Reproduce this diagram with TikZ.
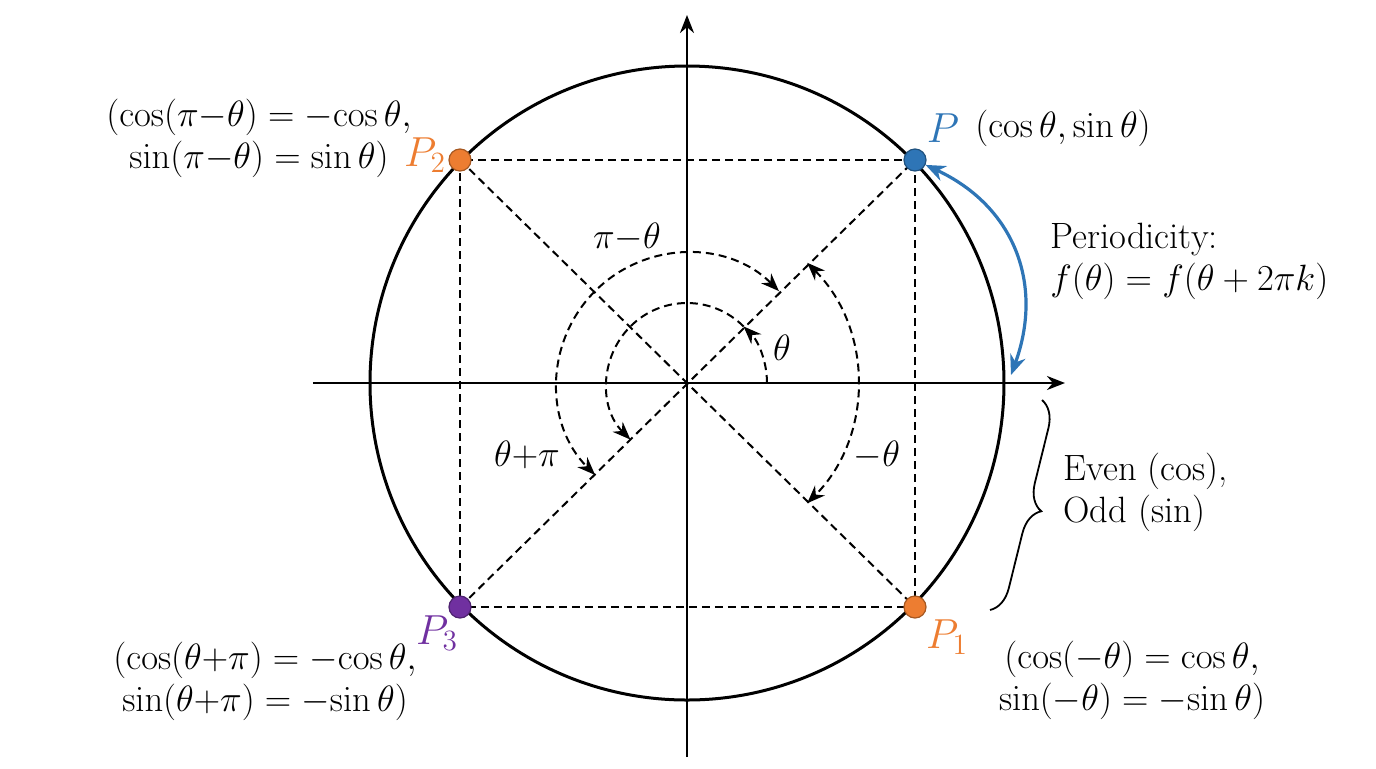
\RequirePackage{fix-cm}
\documentclass[tikz,border=0pt]{standalone}
\usetikzlibrary{arrows.meta,decorations.pathreplacing}
\definecolor{pblue}{RGB}{46,117,182}
\definecolor{porange}{RGB}{237,125,49}
\definecolor{ppurple}{RGB}{112,48,160}
\begin{document}
\begin{tikzpicture}[x=0.5pt,y=0.5pt,
  font=\fontsize{18.3}{21}\selectfont,
  axis/.style={line width=1.3pt,-{Stealth[length=9pt,width=7pt]}},
  circ/.style={line width=1.5pt},
  dline/.style={line width=1pt,dash pattern=on 4pt off 2.5pt},
  darc/.style={line width=1pt,dash pattern=on 4pt off 2.5pt},
  dot/.style={circle,inner sep=0pt,minimum size=11pt,line width=0.6pt},
  ptlabel/.style={font=\fontsize{21}{24}\selectfont},
  txt/.style={align=center,inner sep=0pt},
]
\useasboundingbox (-687,-385) rectangle (689,383);
\coordinate (O) at (0,0);
\coordinate (P) at (228,223);
\coordinate (P2) at (-227,223);
\coordinate (P3) at (-227,-224);
\coordinate (P1) at (228,-224);
\coordinate (xL) at (-374,0);
\coordinate (xR) at (378,0);
\coordinate (yB) at (0,-374);
\coordinate (yT) at (0,368);
% axes
\draw[axis] (xL) -- (xR);
\draw[axis] (yB) -- (yT);
% circle
\draw[circ] (O) circle (317);
% dashed rectangle and diagonals
\draw[dline] (P) -- (P2) -- (P3) -- (P1) -- cycle;
\draw[dline] (P3) -- (P);
\draw[dline] (P2) -- (P1);
% angle arcs
\draw[darc,-{Stealth[length=9pt,width=7pt]}] (0:80) arc[start angle=0,end angle=45,radius=80];
\draw[darc,-{Stealth[length=9pt,width=7pt]}] (45:80) arc[start angle=45,end angle=225,radius=80];
\draw[darc,{Stealth[length=9pt,width=7pt]}-{Stealth[length=9pt,width=7pt]}] (45:130) arc[start angle=45,end angle=225,radius=130];
\draw[darc,{Stealth[length=9pt,width=7pt]}-{Stealth[length=9pt,width=7pt]}] (45:170) arc[start angle=45,end angle=-45,radius=170];
% points
\node[dot,fill=pblue,draw=pblue!70!black] (p) at (P) {};
\node[dot,fill=porange,draw=porange!70!black] (p2) at (P2) {};
\node[dot,fill=ppurple,draw=ppurple!70!black] (p3) at (P3) {};
\node[dot,fill=porange,draw=porange!70!black] (p1) at (P1) {};
% point labels
\node[ptlabel,text=pblue] (lp) at (256,255) {$P$};
\node (lpc) at (376,255) {$(\cos\theta,\sin\theta)$};
\node[ptlabel,text=porange] (lp2) at (-262,228) {$P_2$};
\node[ptlabel,text=ppurple] (lp3) at (-250,-250) {$P_3$};
\node[ptlabel,text=porange] (lp1) at (260,-254) {$P_1$};
% formula labels
\node[txt] (f2) at (-428,245) {$(\cos(\pi{-}\theta) = -\!\cos\theta,$\\ $\sin(\pi{-}\theta) = \sin\theta)$};
\node[txt] (f3) at (-422,-298) {$(\cos(\theta{+}\pi) ={-}\!\cos\theta,$\\ $\sin(\theta{+}\pi) = -\!\sin\theta)$};
\node[txt] (f1) at (445,-297) {$(\cos(-\theta) = \cos\theta,$\\ $\sin(-\theta) = -\!\sin\theta)$};
% angle labels
\node (a1) at (-60,146) {$\pi{-}\theta$};
\node (a2) at (95,35) {$\theta$};
\node (a3) at (-160,-72) {$\theta{+}\pi$};
\node (a4) at (190,-72) {$-\theta$};
% periodicity
\coordinate (E) at (324,8);
\draw[pblue,line width=1.6pt,{Stealth[length=10pt,width=8pt]}-{Stealth[length=10pt,width=8pt]}] (p) to[out=-25,in=70,looseness=1.1] (E);
\node[align=left,anchor=west,inner sep=0pt] (per) at (363,122) {Periodicity:\\ $f(\theta) = f(\theta + 2\pi k)$};
% brace
\coordinate (B1) at (355,-17);
\coordinate (B2) at (303,-227);
\draw[line width=0.9pt,decorate,decoration={brace,amplitude=13pt}] (B1) -- (B2);
\node[align=left,anchor=west,inner sep=0pt] (eo) at (376,-109) {Even (cos),\\ Odd (sin)};
\end{tikzpicture}
\end{document}
